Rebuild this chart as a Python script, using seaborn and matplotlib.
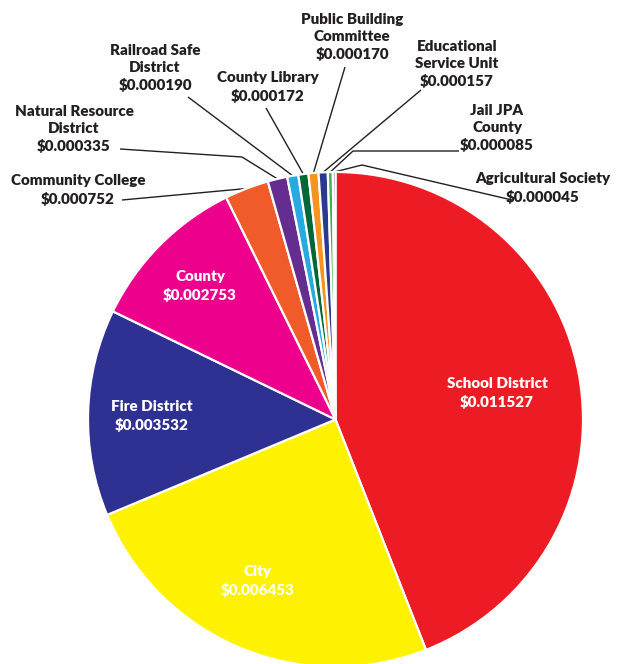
import numpy as np
import matplotlib.pyplot as plt
import seaborn as sns

# levy rates by entity (clockwise from 12 o'clock)
categories = ["School District", "City", "Fire District", "County",
              "Community College", "Natural Resource\nDistrict",
              "Railroad Safe\nDistrict", "County Library",
              "Public Building\nCommittee", "Educational\nService Unit",
              "Jail JPA\nCounty", "Agricultural Society"]
rates = [0.011527, 0.006453, 0.003532, 0.002753, 0.000752, 0.000335,
         0.000190, 0.000172, 0.000170, 0.000157, 0.000085, 0.000045]
colors = ["#ED1C24", "#FFF200", "#2E3192", "#EC008C", "#F15A29", "#662D91",
          "#27AAE1", "#006838", "#F7941D", "#2B3990", "#39B54A", "#92278F"]

# label placement in picture pixels (x, y of text block centre)
inside_pos = {0: (497, 393), 1: (258, 581), 2: (152, 416), 3: (200, 286)}
outside_pos = {
    4: (78, 190), 5: (74, 129), 6: (155, 68), 7: (268, 87),
    8: (352, 37), 9: (457, 64), 10: (497, 128), 11: (543, 188),
}
# leader line start (+ optional bend) in pixels
leaders = {
    4: [(122, 200)],
    5: [(120, 149), (242, 157)],
    6: [(188, 97)],
    7: [(266, 108)],
    8: [(345, 67)],
    9: [(421, 90)],
    10: [(459, 151), (353, 151)],
    11: [(512, 200), (362, 165)],
}

W, H = 621, 664
CX, CY, R = 335.5, 419.5, 247.5


def px(x, y):
    return (x - CX) / R, (CY - y) / R


sns.set_theme(style="white")
plt.rcParams["font.family"] = ["Lato", "DejaVu Sans"]

fig = plt.figure(figsize=(W / 100, H / 100), dpi=100)
ax = fig.add_axes([0, 0, 1, 1])

wedges, _ = ax.pie(rates, colors=colors, startangle=90, counterclock=False,
                   radius=1, center=(0, 0),
                   wedgeprops=dict(edgecolor="white", linewidth=1.6))

fmt = lambda v: f"${v:.6f}"

for i, (x, y) in inside_pos.items():
    ax.text(*px(x, y), f"{categories[i]}\n{fmt(rates[i])}", ha="center",
            va="center", color="white", fontsize=10.9, fontweight="heavy",
            linespacing=1.34)

for i, (x, y) in outside_pos.items():
    ax.text(*px(x, y), f"{categories[i]}\n{fmt(rates[i])}", ha="center",
            va="center", color="#231F20", fontsize=10.9, fontweight="heavy",
            linespacing=1.34)
    w = wedges[i]
    mid = np.deg2rad((w.theta1 + w.theta2) / 2)
    pts = [px(*p) for p in leaders[i]] + [(np.cos(mid), np.sin(mid))]
    xs, ys = zip(*pts)
    ax.plot(xs, ys, color="#231F20", lw=1.0, solid_capstyle="butt", zorder=0)

ax.set_xlim(px(0, 0)[0], px(W, 0)[0])
ax.set_ylim(px(0, H)[1], px(0, 0)[1])
ax.set_aspect("auto")
ax.axis("off")

fig.savefig("out.png", dpi=100)
